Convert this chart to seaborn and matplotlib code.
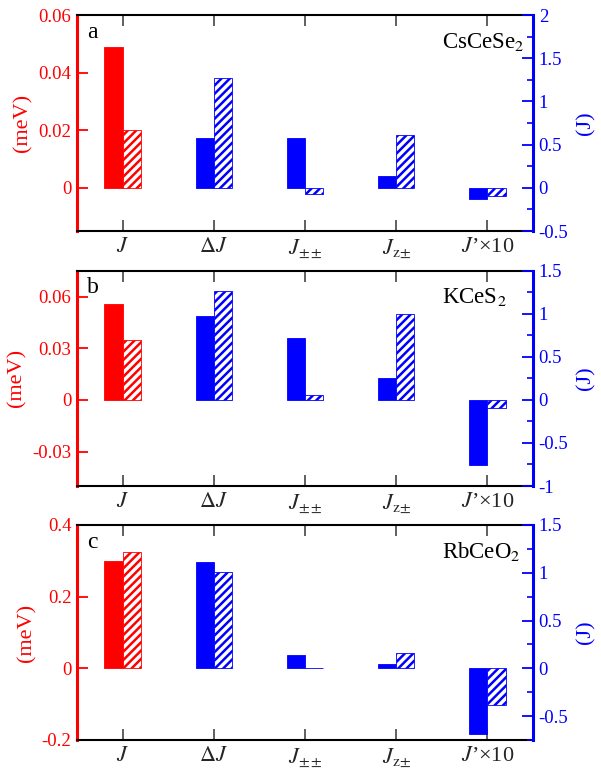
import matplotlib
matplotlib.use("Agg")
import matplotlib.pyplot as plt
import numpy as np
import pandas as pd
import seaborn as sns
from matplotlib.ticker import MultipleLocator, FuncFormatter

# ---------------- data ----------------
categories = ["J", "dJ", "Jpm", "Jzpm", "Jp10"]
tick_labels = [r"$J$", r"$\Delta J$", r"$J_{\pm\pm}$", r"$J_{\mathrm{z}\!\pm}$", r"$J$’×10"]
series = ["model 1", "model 2"]
compounds = [r"CsCeSe$_2$", r"KCeS$_2$", r"RbCeO$_2$"]
letters = ["a", "b", "c"]

# J in meV (left axis)
J_meV_1 = [0.049, 0.0555, 0.300]
J_meV_2 = [0.020, 0.0348, 0.324]

# other couplings in units of J (right axis): dJ, Jpm, Jzpm, J'x10
rel_1 = [[0.58, 0.575, 0.14, -0.135],
         [0.98, 0.72, 0.26, -0.755],
         [1.11, 0.14, 0.045, -0.69]]
rel_2 = [[1.27, -0.073, 0.61, -0.10],
         [1.27, 0.055, 1.00, -0.09],
         [1.01, 0.005, 0.16, -0.38]]

left_ylim = [(-0.015, 0.06), (-0.05, 0.075), (-0.2, 0.4)]
left_step = [0.02, 0.03, 0.2]
right_ylim = [(-0.5, 2.0), (-1.0, 1.5), (-0.75, 1.5)]

# ---------------- style ----------------
sns.set_theme(style="white")
plt.rcParams["font.family"] = ["Liberation Serif", "DejaVu Serif"]
plt.rcParams["mathtext.fontset"] = "stix"
plt.rcParams["hatch.linewidth"] = 1.8

RED = "#ff0000"
BLUE = "#0000ff"

fig = plt.figure(figsize=(6.01, 7.70), dpi=100)
L, W = 0.128, 0.759
boxes = [(0.700, 0.2805), (0.3688, 0.2796), (0.039, 0.2792)]

gfmt = FuncFormatter(lambda v, p: "%g" % round(v, 6))

for i in range(3):
    b, h = boxes[i]
    ax = fig.add_axes([L, b, W, h])
    ax2 = ax.twinx()

    df_left = pd.DataFrame({
        "cat": ["J", "J"],
        "series": series,
        "value": [J_meV_1[i], J_meV_2[i]],
    })
    df_right = pd.DataFrame({
        "cat": categories[1:] * 2,
        "series": [series[0]] * 4 + [series[1]] * 4,
        "value": list(rel_1[i]) + list(rel_2[i]),
    })

    sns.barplot(data=df_left, x="cat", y="value", hue="series", order=categories,
                hue_order=series, palette=[RED, RED], width=0.4, errorbar=None,
                legend=False, ax=ax)
    sns.barplot(data=df_right, x="cat", y="value", hue="series", order=categories,
                hue_order=series, palette=[BLUE, BLUE], width=0.4, errorbar=None,
                legend=False, ax=ax2)

    for a, col in ((ax, RED), (ax2, BLUE)):
        for p in a.patches:
            cx = p.get_x() + p.get_width() / 2
            if cx < round(cx):
                p.set_facecolor(col)
                p.set_edgecolor(col)
                p.set_linewidth(0.6)
            else:
                p.set_facecolor("white")
                p.set_edgecolor(col)
                p.set_hatch("////")
                p.set_linewidth(0.6)

    ax.set_xlim(-0.5, 4.5)
    ax.set_ylim(*left_ylim[i])
    ax2.set_ylim(*right_ylim[i])

    ax.yaxis.set_major_locator(MultipleLocator(left_step[i]))
    ax.yaxis.set_major_formatter(gfmt)
    ax2.yaxis.set_major_locator(MultipleLocator(0.5))
    ax2.yaxis.set_minor_locator(MultipleLocator(0.25))
    ax2.yaxis.set_major_formatter(gfmt)

    ax.set_xticks(range(len(categories)))
    ax.set_xticklabels(tick_labels)
    ax.set_xlabel("")

    # spines
    for s in ("top", "bottom"):
        ax.spines[s].set_color("black")
        ax.spines[s].set_linewidth(1.5)
        ax2.spines[s].set_visible(False)
    ax.spines["left"].set_color(RED)
    ax.spines["left"].set_linewidth(2.2)
    ax.spines["right"].set_visible(False)
    ax2.spines["left"].set_visible(False)
    ax2.spines["right"].set_color(BLUE)
    ax2.spines["right"].set_linewidth(2.2)

    ax.tick_params(axis="y", which="major", direction="in", length=8, width=1.3,
                   color=RED, labelcolor=RED, labelsize=13.5, pad=4, left=True)
    ax.tick_params(axis="x", which="major", direction="in", length=8, width=1.2,
                   color="#444444", labelsize=16, pad=5, top=True, bottom=True)
    ax2.tick_params(axis="y", which="major", direction="in", length=8, width=1.3,
                    color=BLUE, labelcolor=BLUE, labelsize=13.5, pad=4)
    ax2.tick_params(axis="y", which="minor", direction="in", length=4.5, width=1.2,
                    color=BLUE)

    ax.set_ylabel("(meV)", color=RED, fontsize=16, labelpad=4)
    ax2.set_ylabel("(J)", color=BLUE, fontsize=16, labelpad=6)

    ax.grid(False)
    ax2.grid(False)

    ax2.text(0.022, 0.895, letters[i], transform=ax.transAxes, fontsize=17,
             ha="left", va="baseline", color="black")
    ax2.text(0.800, 0.848, compounds[i], transform=ax.transAxes, fontsize=16.5,
             ha="left", va="baseline", color="black")

fig.savefig("out.png", dpi=100)
